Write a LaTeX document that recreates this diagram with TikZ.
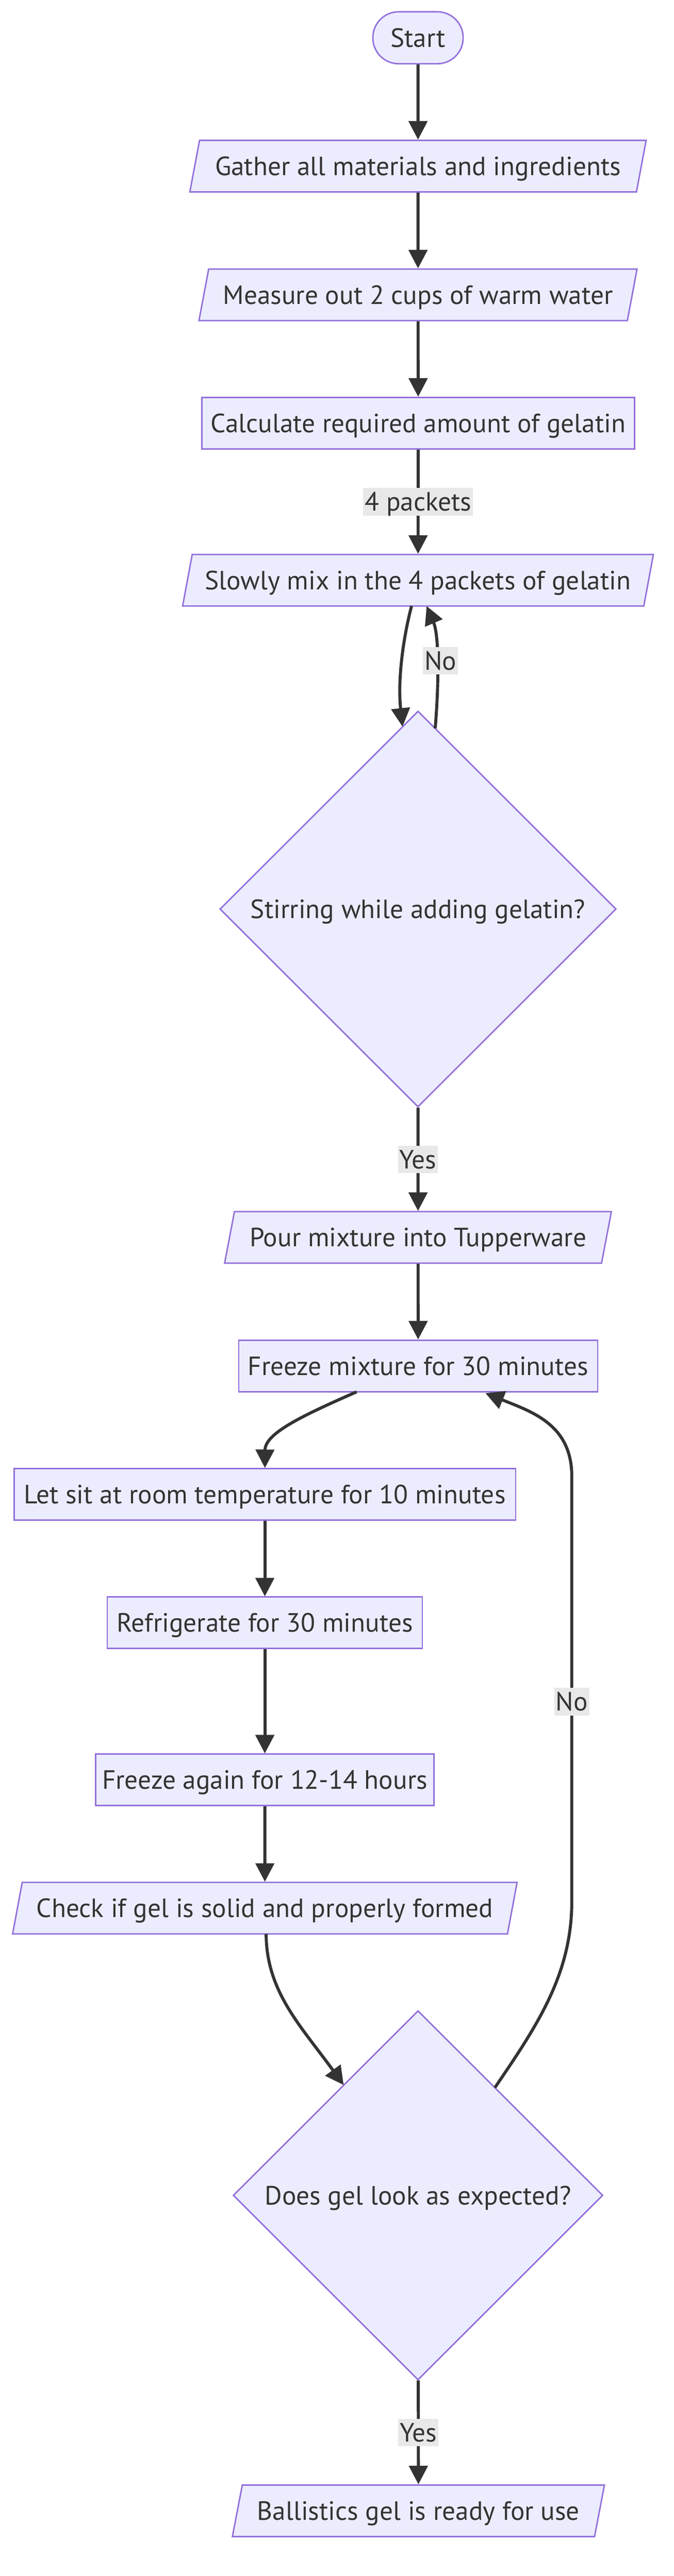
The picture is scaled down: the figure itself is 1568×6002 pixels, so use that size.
\documentclass[tikz,border=0pt]{standalone}
\usepackage{fontspec}
\setmainfont{PT Sans}
\usetikzlibrary{shapes.geometric, arrows.meta, calc}
\definecolor{nodefill}{HTML}{ECECFF}
\definecolor{nodeline}{HTML}{9370DB}
\definecolor{ink}{HTML}{333333}
\definecolor{lblgray}{HTML}{E8E8E8}

\begin{document}
\begin{tikzpicture}[x = 0.01cm, y = -0.01cm,
    base/.style = {draw = nodeline, fill = nodefill, line width = 0.95pt, text = ink, font = \fontsize{17.5}{21}\selectfont, inner sep = 0pt, text height = 0.43cm, text depth = 0pt},
    box/.style = {base, rectangle, minimum height = 1.2cm},
    lean/.style = {base, trapezium, trapezium left angle = 64, trapezium right angle = 116, trapezium stretches = true, minimum height = 1.2cm},
    pill/.style = {base, rectangle, rounded corners = 0.6cm, minimum width = 2.1cm, minimum height = 1.21cm},
    dec/.style = {base, diamond, aspect = 1},
    flow/.style = {draw = ink, line width = 2pt, -{Triangle[length = 0.43cm, width = 0.43cm]}},
    lbl/.style = {fill = lblgray, text = ink, font = \fontsize{17.5}{21}\selectfont, inner xsep = 1pt, inner ysep = 0pt, text height = 0.43cm, text depth = 0pt, minimum height = 0.64cm}]
    \useasboundingbox (0,0) rectangle (1568,6002);
    \node[pill] (start) at (973,88) {Start};
    \node[lean, minimum width = 10.64cm] (gath) at (973,387) {Gather all materials and ingredients};
    \node[lean, minimum width = 10.22cm] (meas) at (973,687) {Measure out 2 cups of warm water};
    \node[box, minimum width = 10.07cm] (calc) at (973.5,986) {Calculate required amount of gelatin};
    \node[lean, minimum width = 11cm] (mix) at (973,1352) {Slowly mix in the 4 packets of gelatin};
    \node[dec, minimum width = 9.22cm, minimum height = 9.22cm] (stir) at (973,2118) {Stirring while adding gelatin?};
    \node[lean, minimum width = 9cm] (pour) at (973,2883) {Pour mixture into Tupperware};
    \node[box, minimum width = 8.35cm] (frz) at (973.5,3182.5) {Freeze mixture for 30 minutes};
    \node[box, minimum width = 11.67cm] (sit) at (616.5,3482) {Let sit at room temperature for 10 minutes};
    \node[box, minimum width = 7.33cm] (frig) at (616.5,3781) {Refrigerate for 30 minutes};
    \node[box, minimum width = 7.87cm] (frz2) at (616.5,4147) {Freeze again for 12-14 hours};
    \node[lean, minimum width = 11.77cm] (chk) at (616.5,4446) {Check if gel is solid and properly formed};
    \node[dec, minimum width = 8.6cm, minimum height = 8.6cm] (look) at (973,5115) {Does gel look as expected?};
    \node[lean, minimum width = 8.68cm] (done) at (974,5850) {Ballistics gel is ready for use};
    \draw[flow] (start) -- (gath);
    \draw[flow] (gath) -- (meas);
    \draw[flow] (meas) -- (calc);
    \draw[flow] (calc) -- node[lbl]{4 packets} (mix);
    \draw[flow] ($(mix.center)+(-15,60)$) .. controls (940,1480) and (925,1580) .. ($(stir.center)+(-36,-425)$);
    \draw[flow] ($(stir.center)+(40,-421)$) .. controls (1022,1590) and (1022,1480) .. node[lbl, pos = 0.5, xshift = 0.08cm]{No} ($(mix.center)+(20,60)$);
    \draw[flow] (stir) -- node[lbl]{Yes} (pour);
    \draw[flow] (pour) -- (frz);
    \draw[flow] ($(frz.center)+(-143.5,60.5)$) .. controls (700,3300) and (617,3340) .. (sit);
    \draw[flow] (sit) -- (frig);
    \draw[flow] (frig) -- (frz2);
    \draw[flow] (frz2) -- (chk);
    \draw[flow] ($(chk.center)+(3,60)$) .. controls (620,4640) and (700,4720) .. ($(look.center)+(-173,-257)$);
    \draw[flow] ($(look.center)+(179,-251)$) .. controls (1250,4720) and (1331,4600) .. (1331,4430) -- node[lbl, pos = 0.47]{No} (1331,3440) .. controls (1331,3320) and (1240,3290) .. ($(frz.center)+(156.5,63.5)$);
    \draw[flow] (look) -- node[lbl]{Yes} (done);
\end{tikzpicture}
\end{document}
